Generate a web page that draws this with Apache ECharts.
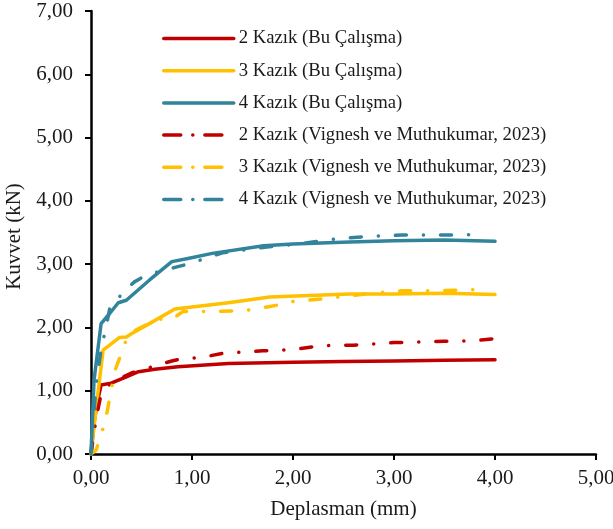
<!DOCTYPE html>
<html>
<head>
<meta charset="utf-8">
<script src="https://cdn.jsdelivr.net/npm/echarts@6/dist/echarts.min.js"></script>
<style>
  html, body { margin: 0; padding: 0; background: #fff; }
  #chart { width: 613px; height: 529px; }
</style>
</head>
<body>
<div id="chart"></div>
<script>
// Load–displacement curves for pile groups
const seriesNames = [
  '2 Kazık (Bu Çalışma)',
  '3 Kazık (Bu Çalışma)',
  '4 Kazık (Bu Çalışma)',
  '2 Kazık (Vignesh ve Muthukumar, 2023)',
  '3 Kazık (Vignesh ve Muthukumar, 2023)',
  '4 Kazık (Vignesh ve Muthukumar, 2023)'
];

// This study – 2 piles
const disp2 = [0, 0.03, 0.06, 0.10, 0.20, 0.35, 0.47, 0.63, 0.86, 1.36, 2.0, 2.5, 3.0, 3.5, 4.0];
const load2 = [0, 0.50, 0.80, 1.09, 1.12, 1.22, 1.30, 1.34, 1.38, 1.43, 1.45, 1.46, 1.47, 1.48, 1.49];

// This study – 3 piles
const disp3 = [0, 0.06, 0.12, 0.20, 0.28, 0.35, 0.40, 0.60, 0.83, 1.36, 1.77, 2.56, 3.0, 3.5, 4.0];
const load3 = [0, 0.85, 1.64, 1.74, 1.84, 1.85, 1.90, 2.08, 2.29, 2.39, 2.48, 2.53, 2.53, 2.54, 2.52];

// This study – 4 piles
const disp4 = [0, 0.03, 0.10, 0.185, 0.27, 0.35, 0.58, 0.80, 0.96, 1.2, 1.71, 2.0, 2.56, 3.0, 3.5, 4.0];
const load4 = [0, 1.17, 2.06, 2.22, 2.39, 2.43, 2.75, 3.04, 3.09, 3.17, 3.29, 3.32, 3.35, 3.37, 3.38, 3.36];

// Vignesh ve Muthukumar (2023) – 2 piles
const dispV2 = [0, 0.05, 0.10, 0.20, 0.40, 0.63, 0.80, 0.91, 1.08, 1.30, 1.70, 2.0, 2.27, 2.60, 3.0, 3.5, 3.8, 3.98];
const loadV2 = [0, 0.55, 0.95, 1.13, 1.28, 1.39, 1.47, 1.51, 1.52, 1.59, 1.63, 1.65, 1.71, 1.72, 1.76, 1.78, 1.79, 1.82];

// Vignesh ve Muthukumar (2023) – 3 piles
const dispV3 = [0, 0.05, 0.12, 0.16, 0.19, 0.24, 0.31, 0.37, 0.66, 0.80, 0.91, 1.21, 1.54, 1.84, 2.0, 2.15, 2.45, 2.78, 3.08, 3.4, 3.68, 3.9];
const loadV3 = [0, 0.06, 0.41, 0.67, 0.93, 1.33, 1.63, 1.90, 2.13, 2.13, 2.25, 2.25, 2.27, 2.35, 2.41, 2.43, 2.48, 2.54, 2.58, 2.58, 2.59, 2.60];

// Vignesh ve Muthukumar (2023) – 4 piles
const dispV4 = [0, 0.05, 0.10, 0.135, 0.19, 0.24, 0.31, 0.43, 0.55, 0.86, 0.98, 1.30, 1.74, 2.0, 2.48, 2.78, 3.09, 3.5, 3.9];
const loadV4 = [0, 1.10, 1.65, 1.90, 2.33, 2.38, 2.55, 2.72, 2.83, 2.96, 3.01, 3.18, 3.27, 3.31, 3.41, 3.44, 3.46, 3.46, 3.47];

const xTicks = [0, 1, 2, 3, 4, 5];
const yTicks = [0, 1, 2, 3, 4, 5, 6, 7];

const colors = ['#C00000', '#FFC000', '#31849B'];
const FONT = '"Liberation Serif", "Times New Roman", serif';
const dashDot = [11, 17, 0.1, 17];
const legendDashDot = [17, 12, 0.1, 12];

function pairs(xs, ys) { return xs.map((x, i) => [x, ys[i]]); }
const fmt = v => v.toFixed(2).replace('.', ',');

const dataSets = [
  pairs(disp2, load2), pairs(disp3, load3), pairs(disp4, load4),
  pairs(dispV2, loadV2), pairs(dispV3, loadV3), pairs(dispV4, loadV4)
];

const series = dataSets.map((d, i) => ({
  name: seriesNames[i],
  type: 'line',
  data: d,
  symbol: 'none',
  smooth: false,
  animation: false,
  lineStyle: {
    color: colors[i % 3],
    width: 3.5,
    type: i < 3 ? 'solid' : dashDot,
    cap: 'round',
    join: 'round'
  },
  itemStyle: { color: colors[i % 3] }
}));

const chart = echarts.init(document.getElementById('chart'), null, { renderer: 'canvas' });
chart.setOption({
  animation: false,
  backgroundColor: '#ffffff',
  grid: { left: 91, right: 17, top: 11, bottom: 75, containLabel: false, outerBoundsMode: 'none' },
  legend: {
    orient: 'vertical',
    left: 157,
    top: 24,
    itemWidth: 70,
    itemHeight: 14,
    itemGap: 13.2,
    itemStyle: { opacity: 0 },
    textStyle: { fontFamily: FONT, fontSize: 18.7, color: '#1a1a1a' },
    data: seriesNames.map((n, i) => ({
      name: n,
      itemStyle: { opacity: 0 },
      lineStyle: { type: i < 3 ? 'solid' : legendDashDot, cap: 'round', width: 3.5 }
    }))
  },
  xAxis: {
    type: 'value',
    min: xTicks[0],
    max: xTicks[xTicks.length - 1],
    interval: 1,
    name: 'Deplasman (mm)',
    nameLocation: 'middle',
    nameGap: 45,
    nameTextStyle: { fontFamily: FONT, fontSize: 21, color: '#1a1a1a' },
    axisLine: { show: true, onZero: false, lineStyle: { color: '#000', width: 2.5 } },
    axisTick: { show: true, length: 6, lineStyle: { color: '#000', width: 2 } },
    axisLabel: { fontFamily: FONT, fontSize: 21, color: '#1a1a1a', margin: 14, formatter: fmt },
    splitLine: { show: false }
  },
  yAxis: {
    type: 'value',
    min: yTicks[0],
    max: yTicks[yTicks.length - 1],
    interval: 1,
    name: 'Kuvvet (kN)',
    nameLocation: 'middle',
    nameGap: 66,
    nameTextStyle: { fontFamily: FONT, fontSize: 21, color: '#1a1a1a', padding: [0, 8, 0, 0] },
    axisLine: { show: true, onZero: false, lineStyle: { color: '#000', width: 2.5 } },
    axisTick: { show: true, length: 6, lineStyle: { color: '#000', width: 2 } },
    axisLabel: { fontFamily: FONT, fontSize: 21, color: '#1a1a1a', margin: 18, formatter: fmt },
    splitLine: { show: false }
  },
  series: series
});
</script>
</body>
</html>
